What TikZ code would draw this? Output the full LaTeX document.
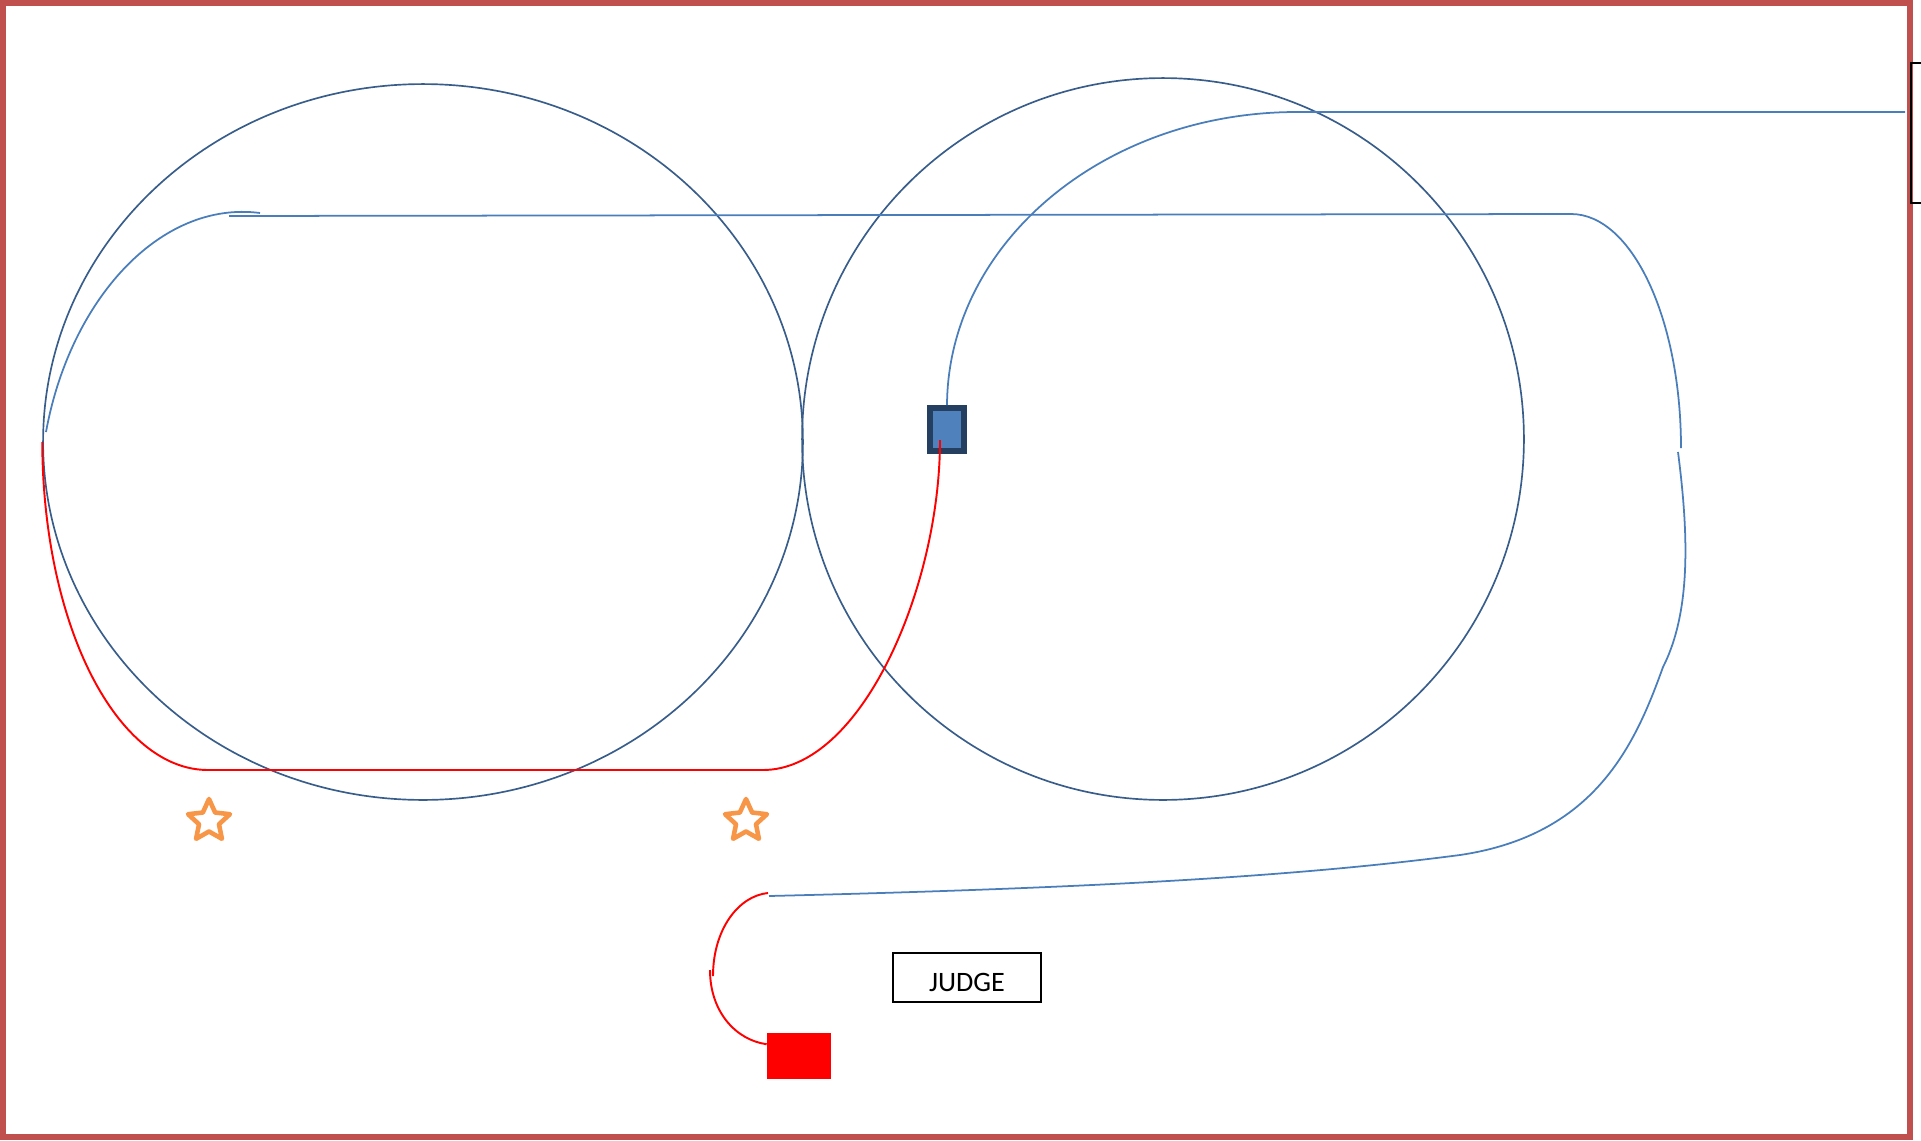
\documentclass[tikz,border=0pt]{standalone}
\usepackage{fontspec}
\setmainfont{Carlito}
\usetikzlibrary{shapes.geometric}
\definecolor{framered}{HTML}{C0504D}
\definecolor{ringblue}{HTML}{385D8A}
\definecolor{routeblue}{HTML}{4A7EBB}
\definecolor{coneorange}{HTML}{F79646}
\definecolor{boxfill}{HTML}{4F81BD}
\definecolor{boxline}{HTML}{243F60}
\begin{document}
\begin{tikzpicture}[x=0.02cm,y=-0.02cm,
  ringline/.style={draw=ringblue, line width=0.95pt, inner sep=0pt},
  blueroute/.style={draw=routeblue, line width=1pt},
  redroute/.style={draw=red, line width=1.1pt},
  conestar/.style={star, star points=5, star point ratio=2.1, minimum size=0.88cm,
    inner sep=0pt, draw=coneorange, line width=2.6pt, line join=round},
  startbox/.style={draw=boxline, fill=boxfill, line width=3.4pt, minimum width=0.68cm,
    minimum height=0.86cm, inner sep=0pt},
  finishbox/.style={fill=red, minimum width=1.28cm, minimum height=0.92cm, inner sep=0pt},
  judgebox/.style={draw=black, line width=0.9pt, minimum width=2.96cm, minimum height=0.98cm,
    inner sep=0pt, text height=16pt, text depth=0pt, font=\fontsize{16}{16}\selectfont},
  boardbox/.style={draw=black, line width=1.2pt, minimum width=1cm, minimum height=2.8cm,
    inner sep=0pt, anchor=north west},
]
\useasboundingbox (0,0) rectangle (1921,1140);
\draw[framered, line width=3.1pt] (3,3) rectangle (1910,1137);
\node[boardbox] (board) at (1910,62) {};

% circles
\node[ellipse, ringline, minimum width=15.2cm, minimum height=14.32cm] (ringL) at (423,442) {};
\node[circle, ringline, minimum size=14.44cm] (ringR) at (1163,439) {};

% markers
\node[startbox] (start) at (947,429.5) {};
\node[finishbox] (finish) at (799,1056) {};
\node[judgebox] (judge) at (967,977.5) {JUDGE};
\node[conestar] (cone1) at (209,821) {};
\node[conestar] (cone2) at (746,821) {};

% named free ends
\coordinate (topEnd) at (1905,112);
\coordinate (redEnd) at (940,440);
\coordinate (arcA) at (46,432);
\coordinate (arcAend) at (260,213);
\coordinate (lineA) at (229,216);
\coordinate (rightA) at (1681,448);
\coordinate (rightB) at (1678,452);
\coordinate (lowEnd) at (769,896);
\coordinate (hookA) at (768,893);
\coordinate (hookB) at (713,976);
\coordinate (hookC) at (710,970);

% red route
\draw[redroute] (ringL.west) .. controls (43,628) and (118,770) .. (208,770)
  -- (763,770) .. controls (861,770) and (940,588) .. (redEnd);

% blue route from start
\draw[blueroute] (start.north) .. controls (948,243) and (1104,112) .. (1297,112) -- (topEnd);

% long blue route
\draw[blueroute] (arcA) .. controls (70,300) and (160,200) .. (arcAend);
\draw[blueroute] (lineA) -- (1571,214) .. controls (1632,214) and (1681,319) .. (rightA);
\draw[blueroute] (rightB) .. controls (1688,530) and (1692,610) .. (1663,667)
  .. controls (1635,745) and (1595,835) .. (1460,855)
  .. controls (1300,876) and (1100,888) .. (lowEnd);

% red hook to finish
\draw[redroute] (hookA) .. controls (738,896) and (713,930) .. (hookB);
\draw[redroute] (hookC) .. controls (710,1012) and (736,1040) .. (finish.160);
\end{tikzpicture}
\end{document}
